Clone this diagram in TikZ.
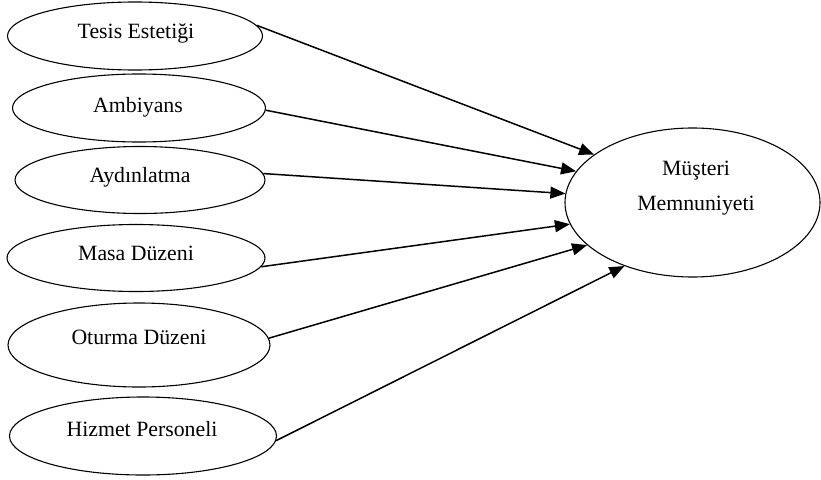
\documentclass[tikz,border=0pt]{standalone}
\usepackage{fontspec}
\setmainfont{Liberation Serif}
\usetikzlibrary{shapes.geometric,arrows.meta}
\begin{document}
\begin{tikzpicture}[x=1pt,y=-1pt,
  oval/.style={draw=black,ellipse,line width=1.1pt,inner sep=0pt},
  txt/.style={font=\fontsize{21.8}{35}\selectfont,inner sep=0pt,align=center},
  conn/.style={draw=black,line width=1.5pt,-{Triangle[length=15pt,width=12pt]}}]
\useasboundingbox (0,0) rectangle (821,479);
\node[oval,minimum width=255pt,minimum height=68pt] (e1) at (135,36) {};
\node[oval,minimum width=253pt,minimum height=68pt] (e2) at (139,108) {};
\node[oval,minimum width=250pt,minimum height=67pt] (e3) at (140,180) {};
\node[oval,minimum width=258pt,minimum height=67pt] (e4) at (136,258) {};
\node[oval,minimum width=262pt,minimum height=84pt] (e5) at (139,345) {};
\node[oval,minimum width=267pt,minimum height=78pt] (e6) at (143,436) {};
\node[oval,minimum width=255pt,minimum height=149pt] (m) at (692.5,202.5) {};
\node[txt] (t1) at (136,33) {Tesis Estetiği};
\node[txt] (t2) at (138,107) {Ambiyans};
\node[txt] (t3) at (140,177) {Aydınlatma};
\node[txt] (t4) at (136,253) {Masa Düzeni};
\node[txt] (t5) at (139,337) {Oturma Düzeni};
\node[txt] (t6) at (142,429) {Hizmet Personeli};
\node[txt] (tm) at (696,188) {Müşteri\\Memnuniyeti};
\draw[conn] (e1.5.6) -- (m.154);
\draw[conn] (e2.359) -- (m.165.4);
\draw[conn] (e3.3.4) -- (m.176.3);
\draw[conn] (e4.356) -- (m.190.2);
\draw[conn] (e5.3.5) -- (m.202.1);
\draw[conn] (e6.358.4) -- (m.223);
\end{tikzpicture}
\end{document}
